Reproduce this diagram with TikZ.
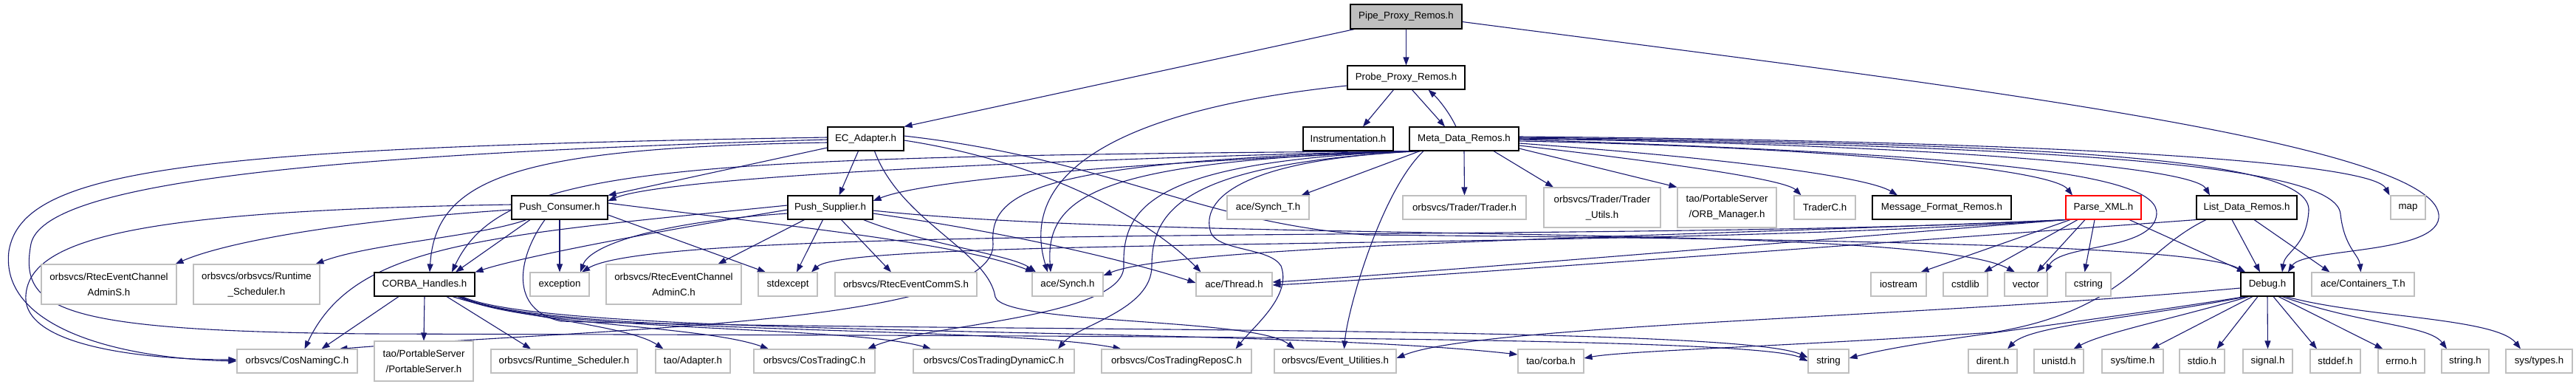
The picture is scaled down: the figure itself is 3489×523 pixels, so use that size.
\documentclass[tikz,border=0pt]{standalone}
\usepackage{fontspec}
\setmainfont{Liberation Sans}
\usetikzlibrary{arrows.meta}
\definecolor{edgec}{RGB}{25,25,112}
\definecolor{gbord}{RGB}{191,191,191}
\pgfdeclarelayer{background}
\pgfsetlayers{background,main}
\tikzset{
  basebox/.style={inner sep=0pt, align=center, font=\fontsize{13.3}{21}\selectfont, line width=1.1pt, fill=white},
  fbox/.style={basebox, draw=black},
  gbox/.style={basebox, draw=gbord},
  rbox/.style={basebox, draw=red},
  rootbox/.style={basebox, draw=black, fill=gbord},
  edge/.style={draw=edgec, line width=1.1pt, -{Triangle[length=11pt,width=8pt]}},
}
\begin{document}
\begin{tikzpicture}[x=1pt,y=-1pt]
\useasboundingbox (0,0) rectangle (3489,523);
% row 1
\node[rootbox, minimum width=151, minimum height=33] (pipe) at (1904.5,22.5) {Pipe\_Proxy\_Remos.h};
% row 2
\node[fbox, minimum width=159, minimum height=32] (probe) at (1904.5,105) {Probe\_Proxy\_Remos.h};
% row 3
\node[fbox, minimum width=103, minimum height=32] (ec) at (1172.5,188) {EC\_Adapter.h};
\node[fbox, minimum width=122, minimum height=32] (instr) at (1826,188) {Instrumentation.h};
\node[fbox, minimum width=148, minimum height=32] (meta) at (1983,188) {Meta\_Data\_Remos.h};
% row 4
\node[fbox, minimum width=130, minimum height=32] (pcons) at (758,281) {Push\_Consumer.h};
\node[fbox, minimum width=115, minimum height=32] (psup) at (1124.5,281) {Push\_Supplier.h};
\node[gbox, minimum width=111, minimum height=32] (synchT) at (1717.5,281) {ace/Synch\_T.h};
\node[gbox, minimum width=167, minimum height=32] (trader) at (1983.5,281) {orbsvcs/Trader/Trader.h};
\node[gbox, minimum width=158, minimum height=54] (traderutils) at (2170,281) {orbsvcs/Trader/Trader\\\_Utils.h};
\node[gbox, minimum width=134, minimum height=54] (orbmgr) at (2339,281) {tao/PortableServer\\/ORB\_Manager.h};
\node[gbox, minimum width=83, minimum height=32] (traderc) at (2471.5,281) {TraderC.h};
\node[fbox, minimum width=188, minimum height=32] (msgfmt) at (2630,281) {Message\_Format\_Remos.h};
\node[rbox, minimum width=102, minimum height=32] (parse) at (2849,281) {Parse\_XML.h};
\node[fbox, minimum width=136, minimum height=32] (listdata) at (3043,281) {List\_Data\_Remos.h};
\node[gbox, minimum width=47, minimum height=32] (map) at (3261.5,281) {map};
% row 5
\node[gbox, minimum width=183, minimum height=54] (adminS) at (147.5,385) {orbsvcs/RtecEventChannel\\AdminS.h};
\node[gbox, minimum width=171, minimum height=54] (rtsched) at (347.5,385) {orbsvcs/orbsvcs/Runtime\\\_Scheduler.h};
\node[fbox, minimum width=136, minimum height=32] (corba) at (575,385) {CORBA\_Handles.h};
\node[gbox, minimum width=80, minimum height=32] (exception) at (758,385) {exception};
\node[gbox, minimum width=183, minimum height=54] (adminC) at (912.5,385) {orbsvcs/RtecEventChannel\\AdminC.h};
\node[gbox, minimum width=80, minimum height=32] (stdexcept) at (1067,385) {stdexcept};
\node[gbox, minimum width=192, minimum height=32] (commS) at (1227,385) {orbsvcs/RtecEventCommS.h};
\node[gbox, minimum width=96, minimum height=32] (synch) at (1446,385) {ace/Synch.h};
\node[gbox, minimum width=103, minimum height=32] (thread) at (1671.5,385) {ace/Thread.h};
\node[gbox, minimum width=75, minimum height=32] (iostream) at (2571.5,385) {iostream};
\node[gbox, minimum width=60, minimum height=32] (cstdlib) at (2662,385) {cstdlib};
\node[gbox, minimum width=58, minimum height=32] (vector) at (2744,385) {vector};
\node[gbox, minimum width=61, minimum height=32] (cstring) at (2828.5,385) {cstring};
\node[fbox, minimum width=72, minimum height=32] (debug) at (3071,385) {Debug.h};
\node[gbox, minimum width=139, minimum height=32] (containers) at (3200.5,385) {ace/Containers\_T.h};
% row 6
\node[gbox, minimum width=163, minimum height=32] (cosnaming) at (402.5,489) {orbsvcs/CosNamingC.h};
\node[gbox, minimum width=134, minimum height=54] (portableserver) at (574,489) {tao/PortableServer\\/PortableServer.h};
\node[gbox, minimum width=198, minimum height=32] (runtimesched) at (764,489) {orbsvcs/Runtime\_Scheduler.h};
\node[gbox, minimum width=101, minimum height=32] (adapter) at (938.5,489) {tao/Adapter.h};
\node[gbox, minimum width=164, minimum height=32] (costrading) at (1103,489) {orbsvcs/CosTradingC.h};
\node[gbox, minimum width=218, minimum height=32] (costradingdyn) at (1346,489) {orbsvcs/CosTradingDynamicC.h};
\node[gbox, minimum width=203, minimum height=32] (costradingrepos) at (1593.5,489) {orbsvcs/CosTradingReposC.h};
\node[gbox, minimum width=165, minimum height=32] (eventutil) at (1808.5,489) {orbsvcs/Event\_Utilities.h};
\node[gbox, minimum width=89, minimum height=32] (corbah) at (2100.5,489) {tao/corba.h};
\node[gbox, minimum width=55, minimum height=32] (string) at (2476.5,489) {string};
\node[gbox, minimum width=66, minimum height=32] (dirent) at (2699,489) {dirent.h};
\node[gbox, minimum width=67, minimum height=32] (unistd) at (2788.5,489) {unistd.h};
\node[gbox, minimum width=83, minimum height=32] (systime) at (2888.5,489) {sys/time.h};
\node[gbox, minimum width=61, minimum height=32] (stdio) at (2982.5,489) {stdio.h};
\node[gbox, minimum width=67, minimum height=32] (signal) at (3071.5,489) {signal.h};
\node[gbox, minimum width=68, minimum height=32] (stddef) at (3163,489) {stddef.h};
\node[gbox, minimum width=63, minimum height=32] (errno) at (3252.5,489) {errno.h};
\node[gbox, minimum width=64, minimum height=32] (stringh) at (3339,489) {string.h};
\node[gbox, minimum width=90, minimum height=32] (systypes) at (3439,489) {sys/types.h};

\begin{pgfonlayer}{background}
% Pipe
\draw[edge] ([xshift=-70]pipe.south) -- (ec.north east);
\draw[edge] (pipe.south) -- (probe.north);
\draw[edge] ([yshift=-7]pipe.east) .. controls (2600,110) and (3290,190) .. (3303,290) .. controls (3310,345) and (3120,335) .. ([xshift=28]debug.north);
% Probe
\draw[edge] ([xshift=-17]probe.south) -- ([xshift=20]instr.north);
\draw[edge] ([xshift=8]probe.south) -- ([xshift=-26]meta.north);
\draw[edge] ([xshift=-11]meta.north) .. controls (1962,150) and (1946,132) .. ([xshift=30]probe.south);
\draw[edge] ([yshift=-11]probe.west) .. controls (1500,150) and (1380,240) .. ([xshift=-27]synch.north);
% EC_Adapter
\draw[edge] ([yshift=-12]ec.west) -- (pcons.north east);
\draw[edge] ([xshift=-10]ec.south) -- ([xshift=12]psup.north);
\draw[edge] ([yshift=-5]ec.west) .. controls (700,200) and (590,240) .. ([xshift=7]corba.north);
\draw[edge] ([yshift=2]ec.west) .. controls (250,200) and (30,230) .. (12,340) .. controls (0,440) and (150,485) .. (cosnaming.west);
\draw[edge] ([yshift=-1]ec.west) .. controls (400,210) and (60,250) .. (42,330) .. controls (25,420) and (80,448) .. (500,452) .. controls (1500,455) and (2380,455) .. (string.west);
\draw[edge] ([yshift=-2]ec.east) .. controls (1420,220) and (1560,300) .. ([xshift=-45]thread.north);
\draw[edge] ([xshift=12]ec.south) .. controls (1220,300) and (1338,340) .. (1348,402) .. controls (1360,440) and (1700,430) .. ([xshift=-55]eventutil.north);
\draw[edge] ([yshift=4]ec.east) .. controls (1500,215) and (1620,300) .. (1850,318) .. controls (2600,325) and (2980,335) .. ([xshift=-30]debug.north);
% Meta_Data
\draw[edge] ([xshift=-60]meta.south) -- ([xshift=45]synchT.north);
\draw[edge] (meta.south) -- (trader.north);
\draw[edge] ([xshift=40]meta.south) -- ([xshift=-66]traderutils.north);
\draw[edge] ([yshift=-13]meta.east) -- (orbmgr.north west);
\draw[edge] ([yshift=-9]meta.east) .. controls (2300,225) and (2420,245) .. ([xshift=-32]traderc.north);
\draw[edge] ([yshift=-6]meta.east) .. controls (2350,215) and (2530,240) .. ([xshift=-60]msgfmt.north);
\draw[edge] ([yshift=-3]meta.east) .. controls (2500,200) and (2780,230) .. ([xshift=-42]parse.north);
\draw[edge] (meta.east) .. controls (2600,195) and (2970,225) .. ([xshift=-50]listdata.north);
\draw[edge] ([yshift=3]meta.east) .. controls (2700,190) and (3210,215) .. ([xshift=-25]map.north);
\draw[edge] ([yshift=2]meta.east) .. controls (2800,195) and (3130,215) .. (3127,285) .. controls (3124,335) and (3095,340) .. ([xshift=20]debug.north);
\draw[edge] ([yshift=1]meta.east) .. controls (2820,198) and (3165,225) .. (3170,290) .. controls (3175,335) and (3195,345) .. ([xshift=-3]containers.north);
\draw[edge] ([yshift=-1]meta.east) .. controls (2700,210) and (2925,235) .. (2921,290) .. controls (2917,340) and (2790,330) .. ([xshift=27]vector.north);
\draw[edge] ([xshift=4]meta.south west) .. controls (1500,218) and (1415,260) .. ([xshift=-23]synch.north);
\draw[edge] ([xshift=2]meta.south west) .. controls (1400,216) and (900,240) .. ([yshift=9]pcons.east);
\draw[edge] ([xshift=6]meta.south west) .. controls (1500,222) and (1250,245) .. ([yshift=9]psup.east);
\draw[edge] (meta.south west) .. controls (900,212) and (680,225) .. ([xshift=37]corba.north);
\draw[edge] ([xshift=3]meta.south west) .. controls (1400,218) and (1340,260) .. (1345,330) .. controls (1350,440) and (800,445) .. ([xshift=57]cosnaming.north);
\draw[edge] ([xshift=-66]meta.south) .. controls (1560,218) and (1520,280) .. (1522,360) .. controls (1524,430) and (1250,440) .. ([xshift=72]costrading.north);
\draw[edge] ([xshift=-63]meta.south) .. controls (1610,222) and (1560,280) .. (1560,360) .. controls (1560,420) and (1460,440) .. ([xshift=87]costradingdyn.north);
\draw[edge] ([xshift=-56]meta.south) .. controls (1680,215) and (1625,270) .. (1640,315) .. controls (1650,340) and (1720,335) .. (1735,360) .. controls (1750,400) and (1700,440) .. ([xshift=80]costradingrepos.north);
\draw[edge] ([xshift=-55]meta.south) .. controls (1870,260) and (1825,420) .. ([xshift=12]eventutil.north);
% Push_Consumer
\draw[edge] ([yshift=4]pcons.west) .. controls (200,285) and (40,320) .. (35,400) .. controls (30,470) and (200,487) .. ([yshift=2]cosnaming.west);
\draw[edge] ([yshift=-3]pcons.west) .. controls (450,300) and (300,330) .. ([xshift=90]adminS.north);
\draw[edge] ([xshift=-45]pcons.south) .. controls (650,320) and (500,330) .. ([xshift=80]rtsched.north);
\draw[edge] ([xshift=-40]pcons.south) -- ([xshift=42]corba.north);
\draw[edge] (pcons.south) -- (exception.north);
\draw[edge] ([yshift=-10]pcons.east) -- ([xshift=-30]stdexcept.north);
\draw[edge] ([yshift=6]pcons.east) .. controls (1100,310) and (1300,330) .. ([xshift=-46]synch.north);
\draw[edge] ([xshift=-20]pcons.south) .. controls (700,350) and (690,420) .. (760,435) .. controls (1300,450) and (2350,440) .. ([yshift=5]string.west);
% Push_Supplier
\draw[edge] ([yshift=3]psup.west) .. controls (650,320) and (480,330) .. ([xshift=10]cosnaming.north);
\draw[edge] ([yshift=-3]psup.west) .. controls (850,320) and (700,350) .. (corba.north east);
\draw[edge] ([yshift=-8]psup.west) .. controls (900,300) and (800,330) .. ([xshift=28]exception.north);
\draw[edge] ([xshift=-35]psup.south) -- ([xshift=60]adminC.north);
\draw[edge] ([xshift=-10]psup.south) -- ([xshift=12]stdexcept.north);
\draw[edge] ([xshift=15]psup.south) -- ([xshift=-20]commS.north);
\draw[edge] ([xshift=45]psup.south) .. controls (1250,330) and (1370,345) .. ([xshift=-43]synch.north);
\draw[edge] ([yshift=-8]psup.east) .. controls (1400,320) and (1550,360) .. ([yshift=2]thread.west);
\draw[edge] ([yshift=-4]psup.east) .. controls (1600,330) and (2600,300) .. ([xshift=-15]vector.north);
% CORBA_Handles
\draw[edge] ([xshift=-35]corba.south) -- ([xshift=33]cosnaming.north);
\draw[edge] (corba.south) -- (portableserver.north);
\draw[edge] ([xshift=30]corba.south) -- ([xshift=-45]runtimesched.north);
\draw[edge] ([xshift=38]corba.south) .. controls (700,430) and (850,440) .. ([xshift=-40]adapter.north);
\draw[edge] ([xshift=45]corba.south) .. controls (700,440) and (950,440) .. ([xshift=-62]costrading.north);
\draw[edge] ([xshift=47]corba.south) .. controls (720,450) and (1150,440) .. ([xshift=-85]costradingdyn.north);
\draw[edge] ([xshift=49]corba.south) .. controls (730,455) and (1350,440) .. ([xshift=-75]costradingrepos.north);
\draw[edge] ([xshift=51]corba.south) .. controls (750,460) and (1700,440) .. ([yshift=9]corbah.west);
% Parse_XML
\draw[edge] ([xshift=-45]parse.south) -- ([xshift=30]iostream.north);
\draw[edge] ([xshift=-35]parse.south) -- ([xshift=25]cstdlib.north);
\draw[edge] ([xshift=-25]parse.south) -- ([xshift=15]vector.north);
\draw[edge] ([xshift=-12]parse.south) -- ([xshift=-5]cstring.north);
\draw[edge] ([xshift=35]parse.south) -- ([xshift=-30]debug.north);
\draw[edge] (parse.south west) .. controls (2200,330) and (900,300) .. ([xshift=30]exception.north);
\draw[edge] (parse.south west) .. controls (2200,340) and (1150,320) .. ([xshift=32]stdexcept.north);
\draw[edge] (parse.south west) .. controls (2300,320) and (1600,330) .. ([yshift=12]synch.east);
\draw[edge] (parse.south west) .. controls (2400,330) and (1850,375) .. ([yshift=3]thread.east);
% List_Data_Remos
\draw[edge] ([xshift=-20]listdata.south) -- ([xshift=-10]debug.north);
\draw[edge] ([xshift=10]listdata.south) -- ([xshift=-45]containers.north);
\draw[edge] (listdata.south west) .. controls (2400,340) and (1850,380) .. ([yshift=-1]thread.east);
\draw[edge] ([xshift=-55]listdata.south) .. controls (2900,340) and (2880,420) .. (2700,450) .. controls (2400,470) and (2200,475) .. ([yshift=4]corbah.east);
% Debug
\draw[edge] ([xshift=-30]debug.south) .. controls (2800,440) and (2600,460) .. ([yshift=4]string.east);
\draw[edge] ([yshift=-5]debug.west) .. controls (2600,430) and (2000,440) .. ([yshift=4]eventutil.east);
\draw[edge] ([xshift=-28]debug.south) .. controls (2900,430) and (2750,440) .. ([xshift=20]dirent.north);
\draw[edge] ([xshift=-25]debug.south) .. controls (2950,430) and (2850,450) .. ([xshift=20]unistd.north);
\draw[edge] ([xshift=-20]debug.south) -- ([xshift=25]systime.north);
\draw[edge] ([xshift=-13]debug.south) -- ([xshift=20]stdio.north);
\draw[edge] (debug.south) -- (signal.north);
\draw[edge] ([xshift=8]debug.south) -- ([xshift=-25]stddef.north);
\draw[edge] ([xshift=15]debug.south) -- ([xshift=-25]errno.north);
\draw[edge] ([xshift=20]debug.south) .. controls (3200,440) and (3290,440) .. ([xshift=-25]stringh.north);
\draw[edge] ([xshift=25]debug.south) .. controls (3200,430) and (3380,430) .. ([xshift=-25]systypes.north);
\end{pgfonlayer}
\end{tikzpicture}
\end{document}
